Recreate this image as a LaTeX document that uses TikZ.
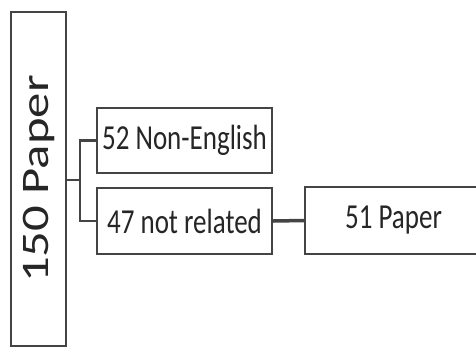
\documentclass[tikz,border=0pt]{standalone}
\usepackage{fontspec}
\setmainfont{Carlito}
\usetikzlibrary{positioning}
\definecolor{boxgray}{HTML}{444444}
\definecolor{inkgray}{HTML}{262626}
\newcommand{\tallword}[1]{\scalebox{1}[1.3]{#1}}

\begin{document}
\begin{tikzpicture}[x=1pt,y=-1pt,
	paperbox/.style={draw=boxgray,line width=1.6pt,fill=white,inner sep=0pt,text=inkgray,
		font=\fontsize{27}{27}\selectfont},
	link/.style={draw=boxgray,line width=2.4pt}]
	\useasboundingbox (0,0) rectangle (476,349);

	\node[paperbox,minimum width=55pt,minimum height=334pt] (total) at (38.5,179)
		{\rotatebox{90}{\fontsize{39}{39}\selectfont\scalebox{1.3}[1]{150 Paper}}};
	\node[paperbox,minimum width=175pt,minimum height=65pt] (nonenglish) at (184.5,140.5) {\tallword{52 Non-English}};
	\node[paperbox,minimum width=175pt,minimum height=66pt] (notrelated) at (184.5,221) {\tallword{47 not related}};
	\node[paperbox,minimum width=177pt,minimum height=67pt] (remaining) at (393.5,220.5) {\tallword{51 Paper}};

	\coordinate (fork) at (80,180);
	\draw[link] (total.east |- fork) -- (fork);
	\draw[link] (nonenglish.west) -| (fork) |- (notrelated.west);
	\draw[link,line width=3.5pt] (notrelated.east) -- (remaining.west);

\end{tikzpicture}
\end{document}
